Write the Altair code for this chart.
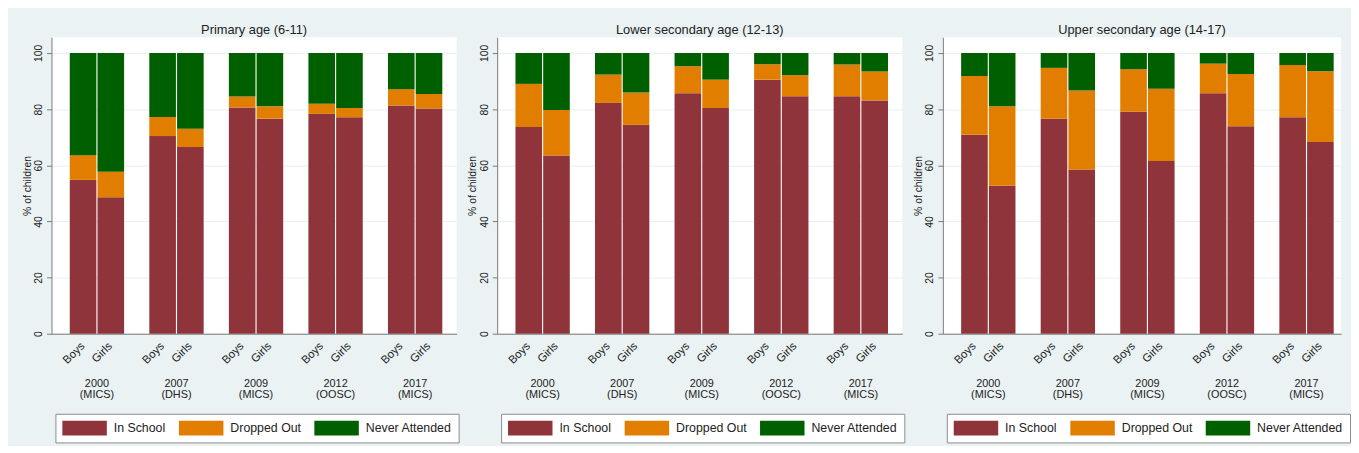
import altair as alt
import pandas as pd

FONT = "Liberation Sans"

panels = ["Primary age (6-11)", "Lower secondary age (12-13)", "Upper secondary age (14-17)"]
surveys = ["2000|(MICS)", "2007|(DHS)", "2009|(MICS)", "2012|(OOSC)", "2017|(MICS)"]
genders = ["Boys", "Girls"]
statuses = ["In School", "Dropped Out", "Never Attended"]
colors = ["#8F343B", "#E17E00", "#006000"]

# Primary age (6-11), per survey
primary_boys_in = [54.8, 70.4, 80.6, 78.3, 81.3]
primary_boys_drop = [8.8, 6.8, 3.9, 3.6, 5.8]
primary_boys_never = [36.4, 22.8, 15.5, 18.1, 12.9]
primary_girls_in = [48.6, 66.5, 76.6, 77.1, 80.2]
primary_girls_drop = [9.1, 6.5, 4.4, 3.3, 5.2]
primary_girls_never = [42.3, 27.0, 19.0, 19.6, 14.6]

# Lower secondary age (12-13)
lower_boys_in = [73.6, 82.2, 85.7, 90.5, 84.6]
lower_boys_drop = [15.4, 10.1, 9.6, 5.5, 11.3]
lower_boys_never = [11.0, 7.7, 4.7, 4.0, 4.1]
lower_girls_in = [63.5, 74.4, 80.4, 84.6, 83.1]
lower_girls_drop = [16.2, 11.5, 10.1, 7.5, 10.3]
lower_girls_never = [20.3, 14.1, 9.5, 7.9, 6.6]

# Upper secondary age (14-17)
upper_boys_in = [70.9, 76.6, 79.1, 85.7, 77.1]
upper_boys_drop = [20.9, 18.1, 15.1, 10.5, 18.6]
upper_boys_never = [8.2, 5.3, 5.8, 3.8, 4.3]
upper_girls_in = [52.7, 58.5, 61.5, 73.9, 68.3]
upper_girls_drop = [28.3, 28.1, 25.8, 18.6, 25.2]
upper_girls_never = [19.0, 13.4, 12.7, 7.5, 6.5]

series = {
    panels[0]: {
        "Boys": [primary_boys_in, primary_boys_drop, primary_boys_never],
        "Girls": [primary_girls_in, primary_girls_drop, primary_girls_never],
    },
    panels[1]: {
        "Boys": [lower_boys_in, lower_boys_drop, lower_boys_never],
        "Girls": [lower_girls_in, lower_girls_drop, lower_girls_never],
    },
    panels[2]: {
        "Boys": [upper_boys_in, upper_boys_drop, upper_boys_never],
        "Girls": [upper_girls_in, upper_girls_drop, upper_girls_never],
    },
}

rows = []
for p in panels:
    for g in genders:
        for si, s in enumerate(statuses):
            for ci, sv in enumerate(surveys):
                rows.append({"panel": p, "survey": sv, "gender": g, "status": s,
                             "order": si, "value": series[p][g][si][ci]})
df = pd.DataFrame(rows)

label_rows = [{"survey": sv, "gender": g} for sv in surveys for g in genders]
label_df = pd.DataFrame(label_rows)

STEP = 80.5
PI = 0.317
LEFT = 18.5


def band_params(W):
    po = (W / STEP - 5 + PI) / 2
    extra = W - STEP * (5 - PI)
    return po, LEFT / extra


def make_panel(name, W):
    po, al = band_params(W)
    xs = alt.Scale(domain=surveys, paddingInner=PI, paddingOuter=po, align=al)
    xo = alt.Scale(domain=genders, paddingInner=0.04, paddingOuter=0)
    d = df[df.panel == name]
    bars = alt.Chart(d).mark_bar().encode(
        x=alt.X("survey:N", scale=xs, sort=surveys, title=None,
                axis=alt.Axis(labelExpr="split(datum.label, '|')", labelAngle=0, ticks=False,
                              labelPadding=44, labelBaseline="top", labelLineHeight=12,
                              labelFontSize=11, labelFont=FONT, labelColor="#222",
                              domainColor="#7a7a7a", grid=False, labelAlign="center")),
        xOffset=alt.XOffset("gender:N", scale=xo, sort=genders),
        y=alt.Y("value:Q", stack="zero", scale=alt.Scale(domain=[0, 105.6], nice=False),
                axis=alt.Axis(values=[0, 20, 40, 60, 80, 100], labelAngle=270, labelAlign="center",
                              labelBaseline="bottom", labelPadding=3, tickSize=5,
                              tickColor="#7a7a7a", domainColor="#7a7a7a", grid=True,
                              gridColor="#E8F0F1", labelFontSize=10.5, labelFont=FONT,
                              labelColor="#222", title="% of children", titleFontSize=10.5,
                              titleFont=FONT, titleColor="#222", titleFontWeight="normal",
                              titleX=-24.5, titleY=150, titleAngle=270, titleAlign="center",
                              titleBaseline="middle")),
        color=alt.Color("status:N", scale=alt.Scale(domain=statuses, range=colors),
                        legend=alt.Legend(orient="none", legendX=4, legendY=381,
                                          direction="horizontal", title=None, columns=3,
                                          symbolType="M-1,-1H5V1H-1Z", symbolSize=225,
                                          symbolStrokeWidth=0, symbolOpacity=1,
                                          labelOffset=37, columnPadding=13, padding=7,
                                          strokeColor="#8a8a8a", fillColor="white",
                                          labelFontSize=12.5, labelFont=FONT, labelColor="#222")),
        order=alt.Order("order:Q"),
    )
    labels = alt.Chart(label_df).mark_text(
        angle=315, align="right", baseline="middle", dx=-7.8, dy=7.8,
        fontSize=11.5, font=FONT, color="#222"
    ).encode(
        x=alt.X("survey:N", scale=xs, sort=surveys),
        xOffset=alt.XOffset("gender:N", scale=xo, sort=genders),
        y=alt.datum(0),
        text="gender:N",
    )
    return alt.layer(bars, labels).properties(
        width=W, height=300,
        title=alt.TitleParams(name, fontSize=13, fontWeight="normal", color="#222",
                              font=FONT, offset=0, anchor="middle"),
    )


chart = alt.hconcat(
    make_panel(panels[0], 410),
    make_panel(panels[1], 410),
    make_panel(panels[2], 403),
    spacing=8,
).resolve_scale(color="independent").resolve_legend(color="independent").properties(
    background="#EAF2F3",
    padding={"left": 14, "top": 14, "right": 0, "bottom": 0},
).configure_view(fill="white", stroke=None)

chart.save("out.html", embed_options={"renderer": "svg", "actions": False})
